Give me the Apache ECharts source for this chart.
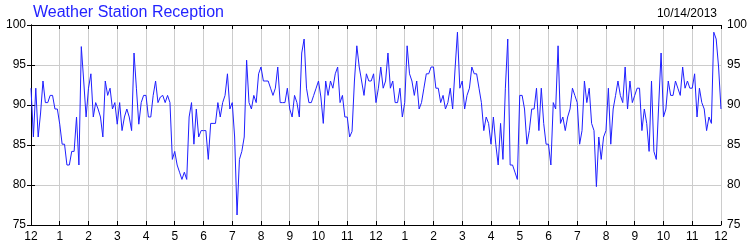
<!DOCTYPE html>
<html>
<head>
<meta charset="utf-8">
<script src="https://cdn.jsdelivr.net/npm/echarts@6/dist/echarts.min.js"></script>
<style>html,body{margin:0;padding:0;background:#fff}#c{width:750px;height:250px}</style>
</head>
<body>
<div id="c"></div>
<script>
const titleText = "Weather Station Reception";
const dateText = "10/14/2013";
const hourLabels = ["12","1","2","3","4","5","6","7","8","9","10","11","12","1","2","3","4","5","6","7","8","9","10","11","12"];
const pointsPerHour = 12;
const reception = [
92.1,86.0,92.1,86.0,89.0,93.0,90.3,90.3,91.2,91.2,89.5,89.5,
87.6,85.1,85.1,82.5,82.5,84.2,84.2,88.5,82.5,97.3,93.0,88.5,
92.1,93.9,88.5,90.3,89.5,88.5,86.0,93.0,91.2,92.1,89.5,90.3,
87.6,90.3,86.8,88.5,89.5,88.5,86.8,96.5,92.1,87.6,90.3,91.2,
91.2,88.5,88.5,91.2,93.0,90.3,91.0,91.2,90.3,91.2,90.3,83.2,
84.2,82.5,81.6,80.7,81.6,80.7,88.5,90.3,85.1,89.5,86.0,86.8,
86.8,86.8,83.2,87.7,87.7,87.7,90.3,88.5,90.3,91.2,93.9,89.5,
90.3,86.0,76.25,83.2,84.2,86.0,95.6,90.3,89.5,91.2,90.3,93.9,
94.75,93.0,93.0,93.0,92.1,91.2,92.1,94.75,90.3,90.3,90.3,92.1,
89.5,88.5,91.2,90.3,88.5,96.5,98.25,92.1,90.3,90.3,91.2,92.1,
93.0,91.0,87.7,93.0,91.2,93.0,92.1,93.9,94.75,90.3,91.2,88.5,
88.5,86.0,86.7,93.0,97.4,94.75,93.0,91.2,93.9,93.0,93.0,93.9,
90.3,92.1,94.75,92.1,93.0,96.5,92.1,93.0,90.3,90.3,92.1,88.5,
90.3,97.4,93.9,93.0,91.2,93.0,89.5,90.3,92.1,93.9,93.9,94.75,
94.75,92.1,92.1,90.3,91.2,89.5,90.3,92.1,89.5,94.5,99.1,92.1,
93.0,89.5,91.2,92.1,94.75,93.9,93.9,92.1,90.3,86.8,88.5,87.7,
85.1,88.5,85.1,82.5,87.7,83.2,92.1,98.25,82.5,82.5,81.6,80.7,
91.2,91.2,89.5,85.1,86.8,89.5,89.5,92.1,86.8,92.1,87.7,85.1,
85.1,82.5,90.3,89.5,97.4,87.7,88.5,86.8,88.5,89.5,92.1,91.2,
90.3,85.1,86.8,93.0,90.3,92.1,87.7,86.8,79.8,86.0,83.2,86.0,
86.8,92.1,85.1,89.5,91.2,93.0,91.2,90.3,94.75,89.5,93.0,90.3,
91.2,92.1,92.1,86.8,89.5,87.7,84.2,93.0,84.2,83.2,90.0,96.5,
88.5,89.5,93.0,91.2,91.2,93.0,92.1,91.2,94.75,92.1,93.0,92.1,
92.1,93.9,88.5,92.1,90.3,89.5,86.8,88.5,87.7,99.1,98.25,94.75,
89.5
];
const yMin = 75, yMax = 100, yStep = 5;

const chart = echarts.init(document.getElementById('c'), null, {renderer:'canvas'});
const font = "'Liberation Sans', Arial, sans-serif";
const tickStyle = {show:true, inside:true, length:4, lineStyle:{color:'#000', width:1}};
const xBase = {
  type:'value', min:0, max:hourLabels.length-1, interval:1,
  axisLine:{show:true, onZero:false, lineStyle:{color:'#000', width:1}},
  axisTick:tickStyle
};
const yBase = {
  type:'value', min:yMin, max:yMax, interval:yStep,
  axisLine:{show:true, lineStyle:{color:'#000', width:1}},
  axisTick:tickStyle
};
chart.setOption({
  animation:false,
  backgroundColor:'#fff',
  title:[
    {text:titleText, left:28, top:0, textStyle:{color:'#2323ff', fontSize:16, fontWeight:'normal', fontFamily:font}},
    {text:dateText, right:28, top:3, textStyle:{color:'#000', fontSize:12, fontWeight:'normal', fontFamily:font}}
  ],
  grid:{left:31, right:29, top:25, bottom:25, containLabel:false},
  xAxis:[
    Object.assign({}, xBase, {position:'bottom',
      axisLabel:{show:true, color:'#000', fontSize:12, fontFamily:font, margin:6, formatter:v=>hourLabels[v]},
      splitLine:{show:true, lineStyle:{color:'#cccccc', width:1}}}),
    Object.assign({}, xBase, {position:'top', axisLabel:{show:false}, splitLine:{show:false}})
  ],
  yAxis:[
    Object.assign({}, yBase, {position:'left',
      axisLabel:{show:true, color:'#000', fontSize:12, fontFamily:font, margin:5},
      splitLine:{show:true, lineStyle:{color:'#cccccc', width:1}}}),
    Object.assign({}, yBase, {position:'right',
      axisLabel:{show:true, color:'#000', fontSize:12, fontFamily:font, margin:6},
      splitLine:{show:false}})
  ],
  series:[{
    type:'line', xAxisIndex:0, yAxisIndex:0,
    data:reception.map((v,i)=>[i/pointsPerHour, v]),
    showSymbol:false, symbol:'none',
    lineStyle:{color:'#1f1fff', width:1},
    itemStyle:{color:'#1f1fff'}
  }]
});
</script>
</body>
</html>
